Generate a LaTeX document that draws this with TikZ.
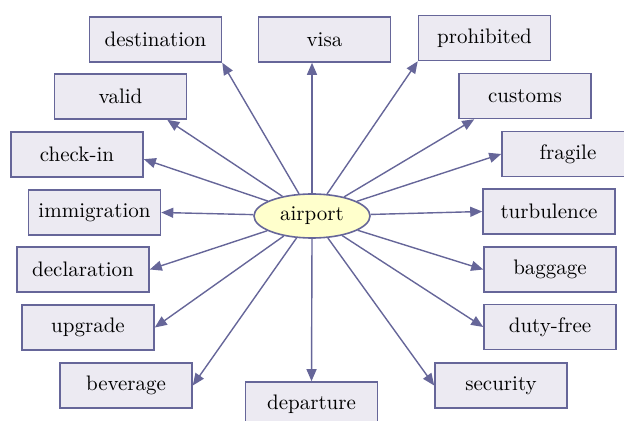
\documentclass[tikz,border=0pt]{standalone}
\usetikzlibrary{positioning, arrows.meta, shapes, calc}
\definecolor{edgeblue}{HTML}{666699}
\definecolor{boxfill}{HTML}{ECEAF2}
\definecolor{hubfill}{HTML}{FFFFCC}

\begin{document}
\begin{tikzpicture}[x=0.5pt, y=0.5pt,
    word/.style={draw=edgeblue, fill=boxfill, line width=0.8pt, minimum width=66pt, minimum height=22.5pt, inner sep=0pt, font=\fontsize{10.5}{13}\selectfont},
    hub/.style={ellipse, draw=edgeblue, fill=hubfill, line width=0.8pt, minimum width=58pt, minimum height=22pt, inner sep=0pt, font=\fontsize{10.5}{13}\selectfont},
    arr/.style={draw=edgeblue, line width=0.7pt, -{Triangle[length=6pt, width=5pt]}}]
    \useasboundingbox (0,0) rectangle (624,-421);
    % Centre word
    \node[hub] (airport) at (312,-216) {airport};
    % Words around it
    \node[word] (dest) at (155.5,-39.5) {destination};
    \node[word] (visa) at (324.5,-39.5) {visa};
    \node[word] (prohib) at (484.5,-38) {prohibited};
    \node[word] (valid) at (120.5,-96.5) {valid};
    \node[word] (customs) at (525,-96) {customs};
    \node[word] (checkin) at (77,-154.5) {check-in};
    \node[word] (fragile) at (568,-154) {fragile};
    \node[word] (immig) at (94.5,-212.5) {immigration};
    \node[word] (turb) at (549,-211.5) {turbulence};
    \node[word] (decl) at (83,-269.5) {declaration};
    \node[word] (baggage) at (550,-269.5) {baggage};
    \node[word] (upgrade) at (88,-327.5) {upgrade};
    \node[word] (dutyfree) at (550,-327) {duty-free};
    \node[word] (beverage) at (126,-385.5) {beverage};
    \node[word] (security) at (501,-385.5) {security};
    \node[word] (depart) at (311.5,-404.5) {departure};
    % Draw arrows out of the centre
    \draw[arr] (airport) -- (dest.south east);
    \draw[arr] (airport.north) -- (visa.south -| airport.north);
    \draw[arr] (airport) -- (prohib.south west);
    \draw[arr] (airport) -- ($(valid.south)!0.7!(valid.south east)$);
    \draw[arr] (airport) -- ($(customs.south west)!0.12!(customs.south east)$);
    \draw[arr] (airport) -- ($(checkin.east)!0.2!(checkin.south east)$);
    \draw[arr] (airport) -- (fragile.west);
    \draw[arr] (airport) -- (immig.east);
    \draw[arr] (airport) -- (turb.west);
    \draw[arr] (airport) -- (decl.east);
    \draw[arr] (airport) -- (baggage.west);
    \draw[arr] (airport) -- (upgrade.east);
    \draw[arr] (airport) -- (dutyfree.west);
    \draw[arr] (airport) -- (beverage.east);
    \draw[arr] (airport) -- (security.west);
    \draw[arr] (airport.south) -- (depart.north);
\end{tikzpicture}
\end{document}
